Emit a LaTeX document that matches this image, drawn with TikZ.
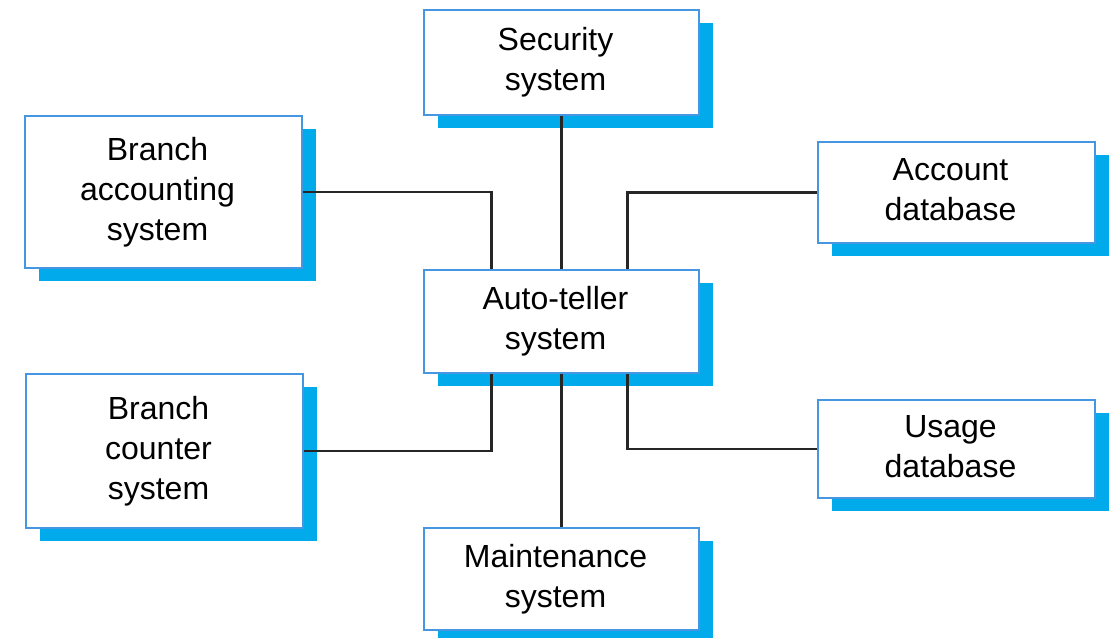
\documentclass[tikz,border=0pt]{standalone}
\usepackage{fontspec}
\setmainfont{Liberation Sans}
\usetikzlibrary{shadows}
\definecolor{edgeblue}{RGB}{70,150,225}
\definecolor{shadeblue}{RGB}{0,170,235}
% centred lines, set a little left of the middle of the box
\newcommand\boxtext[1]{\hspace*{-6pt}\begin{tabular}{@{}c@{}}#1\end{tabular}}

\begin{document}
\begin{tikzpicture}[x=0.5pt, y=-0.5pt,
		sysbox/.style={draw=edgeblue, line width=0.9pt, fill=white,
			inner sep=0pt, minimum width=137.5pt,
			font=\fontsize{16}{20}\selectfont,
			drop shadow={shadow xshift=7pt, shadow yshift=-6.5pt, fill=shadeblue, opacity=1}},
		link/.style={line width=1.4pt, color=black!85}]
		%%%%% START %%%%%
		
		\useasboundingbox (0, 0) rectangle (1110, 638);
		
		\node[sysbox, minimum height=52.5pt] (sec) at (561.5, 62.5) {\boxtext{Security\\system}};
		\node[sysbox, minimum height=51.5pt] (atm) at (561.5, 321.5) {\boxtext{Auto-teller\\system}};
		\node[sysbox, minimum height=51pt] (maint) at (561.5, 579) {\boxtext{Maintenance\\system}};
		
		\node[sysbox, minimum width=138.5pt, minimum height=76pt] (bacc) at (163.5, 192) {\boxtext{Branch\\accounting\\system}};
		\node[sysbox, minimum width=138.5pt, minimum height=77pt] (bctr) at (164.5, 451) {\boxtext{Branch\\counter\\system}};
		
		\node[sysbox, minimum width=138.5pt, minimum height=50.5pt] (accdb) at (956.5, 192.5) {\boxtext{Account\\database}};
		\node[sysbox, minimum width=138.5pt, minimum height=49pt] (usedb) at (956.5, 449) {\boxtext{Usage\\database}};
		
		% links into the auto-teller
		\draw[link] (sec.south) -- (atm.north);
		\draw[link] (bacc.east) -| ([xshift=-35pt]atm.north);
		\draw[link] (accdb.west) -| ([xshift=33pt]atm.north);
		
		\draw[link] (atm.south) -- (maint.north);
		\draw[link] (bctr.east) -| ([xshift=-35pt]atm.south);
		\draw[link] (usedb.west) -| ([xshift=33pt]atm.south);
		
		%%%%% END %%%%%
	\end{tikzpicture}
\end{document}
